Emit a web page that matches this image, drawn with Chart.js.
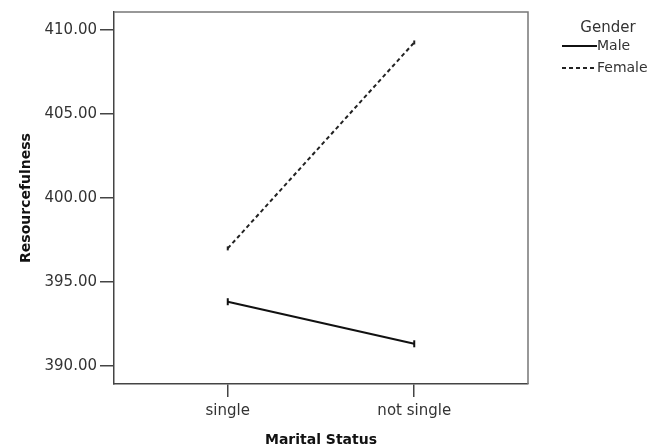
<!DOCTYPE html>
<html>
<head>
<meta charset="utf-8">
<script src="https://cdn.jsdelivr.net/npm/chart.js@4/dist/chart.umd.min.js"></script>
<style>
html,body{margin:0;padding:0;background:#fff;}
#wrap{width:660px;height:448px;}
</style>
</head>
<body>
<div id="wrap"><canvas id="chart" width="660" height="448"></canvas></div>
<script>
//Data
var categories = ["single","not single"];
var maleValues = [393.83,391.33];
var femaleValues = [397.0,409.24];
var yTicks = [390,395,400,405,410];
var legendTitle = "Gender";

function pts(vals){
	return vals.map(function(v,i){return {x:i,y:v};});
}

//Frame + legend
var framePlugin = {
	id:'frame',
	afterDraw:function(chart){
		var ctx = chart.ctx, a = chart.chartArea;
		ctx.save();
		ctx.strokeStyle = '#777';
		ctx.lineWidth = 1.5;
		ctx.beginPath();
		ctx.moveTo(a.left,a.top);
		ctx.lineTo(a.right,a.top);
		ctx.lineTo(a.right,a.bottom);
		ctx.stroke();
		//legend
		ctx.fillStyle = '#333';
		ctx.font = '15px "DejaVu Sans"';
		ctx.textAlign = 'center';
		ctx.textBaseline = 'middle';
		ctx.fillText(legendTitle,608,28);
		ctx.font = '14px "DejaVu Sans"';
		ctx.textAlign = 'left';
		var rows = [46,68];
		chart.data.datasets.forEach(function(ds,i){
			ctx.strokeStyle = ds.borderColor;
			ctx.lineWidth = 2;
			ctx.setLineDash(ds.borderDash || []);
			ctx.beginPath();
			ctx.moveTo(562,rows[i]);
			ctx.lineTo(597,rows[i]);
			ctx.stroke();
			ctx.setLineDash([]);
			ctx.fillText(ds.label,597,rows[i]);
		});
		ctx.restore();
	}
};

var chart = new Chart(document.getElementById('chart'),{
	type:'line',
	data:{
		datasets:[{
			label:'Male',
			data:pts(maleValues),
			borderColor:'#111',
			backgroundColor:'#111',
			borderWidth:2,
			pointStyle:'line',
			rotation:90,
			pointRadius:3.5,
			pointBorderWidth:2
		},{
			label:'Female',
			data:pts(femaleValues),
			borderColor:'#222',
			backgroundColor:'#222',
			borderWidth:2,
			borderDash:[4,3],
			pointStyle:'line',
			rotation:90,
			pointRadius:2,
			pointBorderWidth:2
		}]
	},
	options:{
		responsive:false,
		animation:false,
		layout:{padding:{left:0,right:132,top:8,bottom:0}},
		plugins:{legend:{display:false},tooltip:{enabled:false}},
		scales:{
			x:{
				type:'linear',
				min:-0.61,
				max:1.61,
				afterBuildTicks:function(s){s.ticks = categories.map(function(c,i){return {value:i};});},
				afterFit:function(s){s.height = 64;},
				grid:{drawOnChartArea:false,tickLength:13,color:'#444',lineWidth:1.5},
				border:{color:'#444',width:1.5},
				ticks:{
					color:'#333',
					font:{family:'DejaVu Sans',size:15},
					padding:5,
					maxRotation:0,
					callback:function(v){return categories[v];}
				},
				title:{display:true,text:'Marital Status',color:'#111',font:{family:'DejaVu Sans',size:14,weight:'bold'},padding:{top:0,bottom:-1}}
			},
			y:{
				min:388.94,
				max:411.05,
				afterBuildTicks:function(s){s.ticks = yTicks.map(function(v){return {value:v};});},
				afterFit:function(s){s.width = 114;},
				grid:{drawOnChartArea:false,tickLength:14,color:'#444',lineWidth:1.5},
				border:{color:'#444',width:1.5},
				ticks:{
					color:'#333',
					font:{family:'DejaVu Sans',size:15},
					padding:3,
					callback:function(v){return v.toFixed(2);}
				},
				title:{display:true,text:'Resourcefulness',color:'#111',font:{family:'DejaVu Sans',size:14,weight:'bold'},padding:{top:18,bottom:0}}
			}
		}
	},
	plugins:[framePlugin]
});
</script>
</body>
</html>
